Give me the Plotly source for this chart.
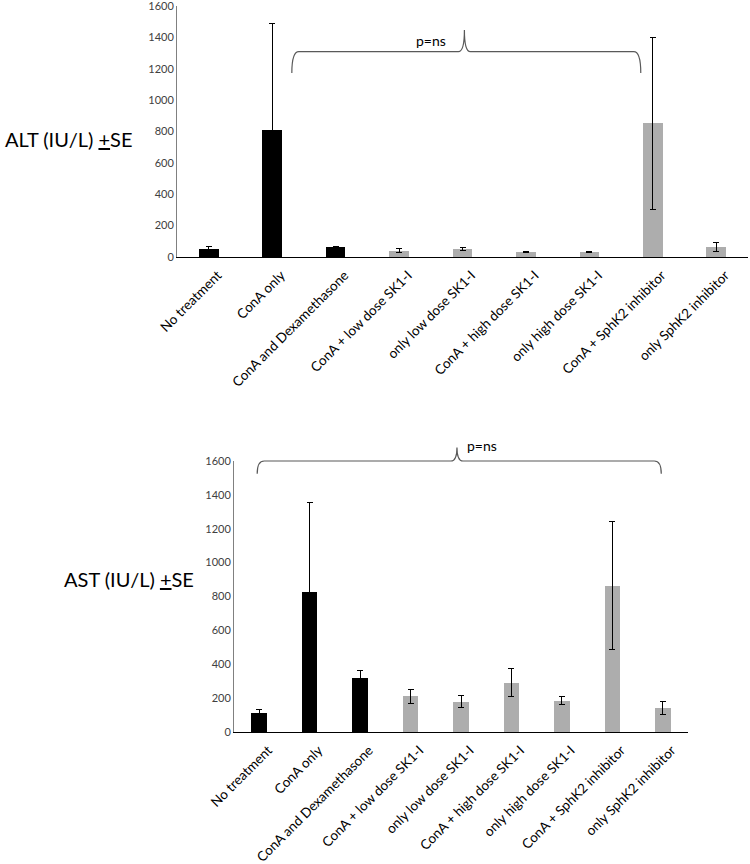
import plotly.graph_objects as go

categories = ["No treatment", "ConA only", "ConA and Dexamethasone", "ConA + low dose SK1-I",
              "only low dose SK1-I", "ConA + high dose SK1-I", "only high dose SK1-I",
              "ConA + SphK2 inhibitor", "only SphK2 inhibitor"]
alt_values = [53, 810, 62, 40, 49, 32, 32, 852, 62]
alt_se = [13, 680, 5, 13, 10, 4, 3, 550, 29]
ast_values = [112, 824, 318, 210, 180, 292, 186, 864, 141]
ast_se = [20, 532, 45, 40, 34, 84, 25, 377, 37]
bar_colors = ["#000000", "#000000", "#000000", "#adadad", "#adadad", "#adadad", "#adadad", "#adadad", "#adadad"]
y_ticks = [0, 200, 400, 600, 800, 1000, 1200, 1400, 1600]

W, H = 750, 864
FONT = "Lato"


def fx(px):
    return px / W


def fy(py):
    return 1 - py / H


# domains (paper fractions) from page pixel positions
top_xd = [fx(177), fx(748)]
top_yd = [fy(257), fy(6)]
bot_xd = [fx(234), fx(688)]
bot_yd = [fy(732), fy(461)]
YMAX = 1600
n = len(categories)
xs = list(range(n))

fig = go.Figure()
for xa, ya, vals, errs in [("x", "y", alt_values, alt_se), ("x2", "y2", ast_values, ast_se)]:
    fig.add_trace(go.Bar(
        x=xs, y=vals, xaxis=xa, yaxis=ya, width=0.31,
        marker=dict(color=bar_colors, line=dict(width=0)),
        error_y=dict(type="data", array=errs, visible=True, color="#000000", thickness=1, width=3),
        showlegend=False, hoverinfo="skip"))

axis_common_x = dict(range=[-0.5, n - 0.5], tickvals=xs, ticktext=categories, tickangle=-45,
                     showgrid=False, zeroline=False, showline=True, linecolor="#000000", linewidth=1.3,
                     ticks="", automargin=False, ticklabeloverflow="allow",
                     ticklabelshift=9, ticklabelstandoff=4,
                     tickfont=dict(family=FONT, size=13.5, color="#000000"), fixedrange=True)
axis_common_y = dict(range=[0, YMAX], tickvals=y_ticks, showgrid=False, zeroline=False,
                     showline=True, linecolor="#808080", linewidth=1, ticks="", automargin=False,
                     ticklabeloverflow="allow",
                     tickfont=dict(family=FONT, size=11, color="#404040"), fixedrange=True)

fig.update_layout(
    template="none",
    width=W, height=H, margin=dict(l=0, r=0, t=0, b=0),
    paper_bgcolor="white", plot_bgcolor="white", bargap=0,
    xaxis=dict(domain=top_xd, anchor="y", **axis_common_x),
    yaxis=dict(domain=top_yd, anchor="x", **axis_common_y),
    xaxis2=dict(domain=bot_xd, anchor="y2", **axis_common_x),
    yaxis2=dict(domain=bot_yd, anchor="x2", **axis_common_y),
)


def to_paper(xd, yd, xi, v):
    px = xd[0] + (xi + 0.5) / n * (xd[1] - xd[0])
    py = yd[0] + v / YMAX * (yd[1] - yd[0])
    return px, py


def brace(xd, yd, x_left, x_mid, x_right, y_line, y_end, y_peak):
    xl, yh = to_paper(xd, yd, x_left, y_line)
    xm, yp = to_paper(xd, yd, x_mid, y_peak)
    xr, ye = to_paper(xd, yd, x_right, y_end)
    r = 7 / W
    s = 6 / W
    path = (f"M {xl},{ye} Q {xl},{yh} {xl + r},{yh} L {xm - s},{yh} "
            f"Q {xm},{yh} {xm},{yp} Q {xm},{yh} {xm + s},{yh} "
            f"L {xr - r},{yh} Q {xr},{yh} {xr},{ye}")
    fig.add_shape(type="path", xref="paper", yref="paper", path=path,
                  line=dict(color="#595959", width=1.2))


# top brace
brace(top_xd, top_yd, 1.31, 4.03, 6.81, 1309, 1173, 1447)
tx, ty = to_paper(top_xd, top_yd, 3.51, 1445)
fig.add_annotation(x=tx, y=ty, xref="paper", yref="paper", text="p=ns", showarrow=False,
                   font=dict(family=FONT, size=14, color="#000000"))
# bottom brace
brace(bot_xd, bot_yd, -0.04, 3.92, 7.97, 1600, 1525, 1680)
bx, by = to_paper(bot_xd, bot_yd, 4.42, 1690)
fig.add_annotation(x=bx, y=by, xref="paper", yref="paper", text="p=ns", showarrow=False,
                   font=dict(family=FONT, size=14, color="#000000"))

# y axis titles
fig.add_annotation(x=fx(3), y=fy(125), xref="paper", yref="paper", xanchor="left",
                   text="ALT (IU/L) <u>+</u>SE", showarrow=False,
                   font=dict(family=FONT, size=20, color="#000000"))
fig.add_annotation(x=fx(62), y=fy(593), xref="paper", yref="paper", xanchor="left",
                   text="AST (IU/L) <u>+</u>SE", showarrow=False,
                   font=dict(family=FONT, size=20, color="#000000"))

fig.write_html("out.html", config={"displayModeBar": False},
               post_script="document.body.style.margin='0px';document.body.style.overflow='hidden';")
